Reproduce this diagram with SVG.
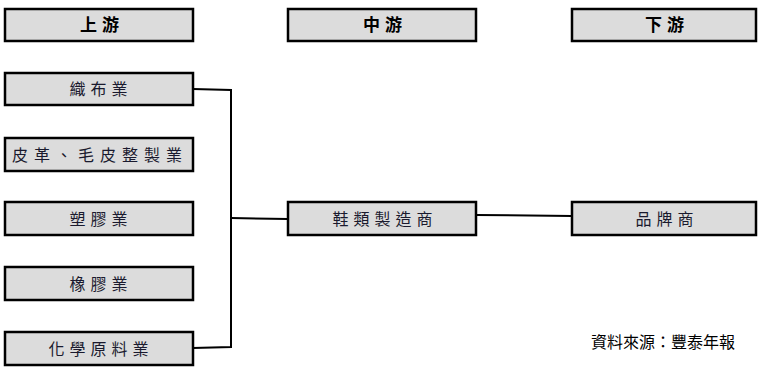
<svg xmlns="http://www.w3.org/2000/svg" width="772" height="375" viewBox="0 0 772 375">
<style>
.box{fill:#dcdcdc;stroke:#000;stroke-width:2.5}
.hd{font-family:"Noto Sans CJK TC","Noto Sans CJK SC",sans-serif;font-size:17px;font-weight:bold;fill:#000;text-anchor:middle;letter-spacing:5px}
.lb{font-family:"Noto Sans CJK TC","Noto Sans CJK SC",sans-serif;font-size:16px;fill:#1a1a2e;text-anchor:middle;letter-spacing:5px}
.src{font-family:"Noto Sans CJK TC","Noto Sans CJK SC",sans-serif;font-size:16px;fill:#000}
.ln{fill:none;stroke:#000;stroke-width:2}
</style>
<rect width="772" height="375" fill="#fff"/>
<g id="connectors">
<path class="ln" d="M193,89 L231,90 L231,347 L193,348"/>
<path class="ln" d="M231,218 L288,219"/>
<path class="ln" d="M476,215 L572,216"/>
</g>
<g id="h-up"><rect class="box" x="5" y="9" width="188" height="32"/><text class="hd" x="102" y="31">上游</text></g>
<g id="h-mid"><rect class="box" x="288" y="9" width="188" height="32"/><text class="hd" x="385" y="31">中游</text></g>
<g id="h-down"><rect class="box" x="572" y="9" width="184" height="32"/><text class="hd" x="667" y="31">下游</text></g>
<g id="n1"><rect class="box" x="5" y="73" width="188" height="32"/><text class="lb" x="101" y="95">織布業</text></g>
<g id="n2"><rect class="box" x="5" y="138" width="188" height="33"/><text class="lb" x="100" y="161" style="letter-spacing:6px">皮革、毛皮整製業</text></g>
<g id="n3"><rect class="box" x="5" y="202" width="188" height="33"/><text class="lb" x="101" y="225">塑膠業</text></g>
<g id="n4"><rect class="box" x="5" y="267" width="188" height="33"/><text class="lb" x="101" y="290">橡膠業</text></g>
<g id="n5"><rect class="box" x="5" y="332" width="188" height="33"/><text class="lb" x="101" y="355">化學原料業</text></g>
<g id="n6"><rect class="box" x="288" y="202" width="188" height="33"/><text class="lb" x="385" y="225">鞋類製造商</text></g>
<g id="n7"><rect class="box" x="572" y="202" width="184" height="33"/><text class="lb" x="667" y="225">品牌商</text></g>
<text class="src" x="591" y="348">資料來源：豐泰年報</text>
</svg>
